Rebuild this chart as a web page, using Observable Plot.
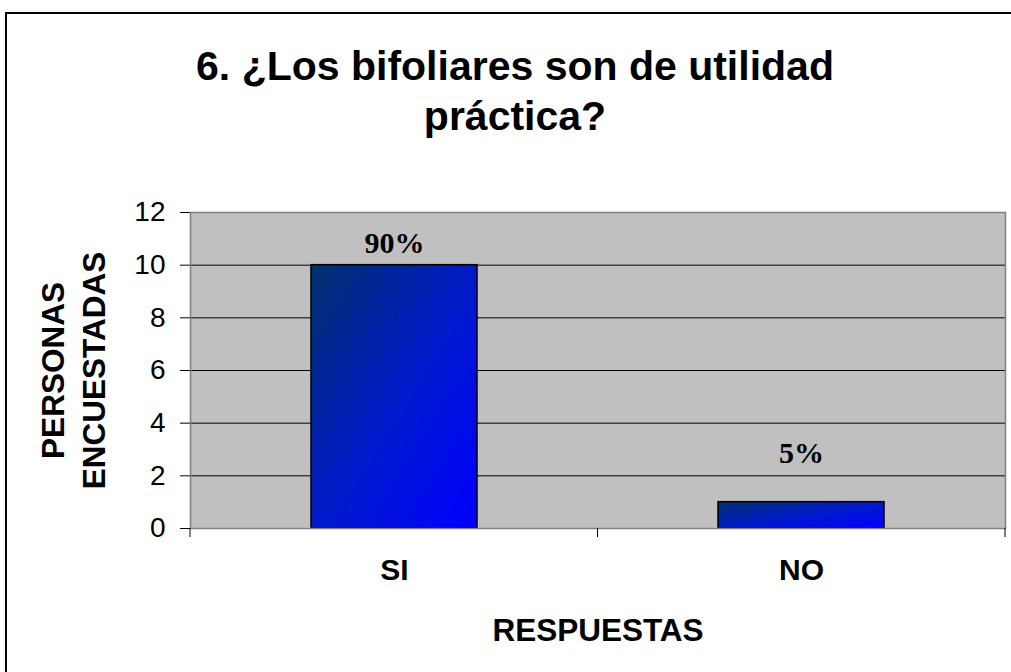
<!DOCTYPE html>
<html><head><meta charset="utf-8">
<script src="https://cdn.jsdelivr.net/npm/d3@7"></script>
<script src="https://cdn.jsdelivr.net/npm/@observablehq/plot@0.6"></script>
<style>
html,body{margin:0;padding:0;background:#fff;}
#wrap{position:relative;width:1011px;height:672px;overflow:hidden;font-family:"Liberation Sans",Arial,sans-serif;background:#fff;}
#border{position:absolute;left:5px;top:12px;width:1100px;height:800px;border-left:2px solid #000;border-top:2px solid #000;}
#title{position:absolute;left:0;top:41px;width:1030px;text-align:center;font-weight:bold;font-size:41px;line-height:50px;color:#000;}
#chart{position:absolute;left:0;top:0;}
</style>
</head><body>
<div id="wrap">
  <div id="border"></div>
  <div id="chart"></div>
  <div id="title">6. ¿Los bifoliares son de utilidad<br>práctica?</div>
</div>
<script>
const answers = ["SI", "NO"];
const counts = [10, 1];
const percentLabels = ["90%", "5%"];
const yTicks = [0, 2, 4, 6, 8, 10, 12];
const yTitle = "PERSONAS\nENCUESTADAS";
const xTitle = "RESPUESTAS";

const rows = answers.map((a, i) => ({answer: a, count: counts[i], label: percentLabels[i]}));
const sans = "'Liberation Sans', Arial, sans-serif";
const serif = "'Liberation Serif', 'Times New Roman', serif";

const chart = Plot.plot({
  width: 1011,
  height: 672,
  marginLeft: 190,
  marginRight: 6,
  marginTop: 212,
  marginBottom: 144,
  style: {fontFamily: sans, background: "transparent", color: "#000", overflow: "visible"},
  x: {type: "band", domain: answers, paddingInner: 0.593, paddingOuter: 0.2965, axis: null, label: null},
  y: {domain: [0, 12], axis: null, label: null},
  marks: [
    Plot.frame({fill: "#C0C0C0"}),
    Plot.gridY(yTicks, {stroke: "#000", strokeOpacity: 1, strokeWidth: 1}),
    Plot.barY(rows, {x: "answer", y: "count", fill: "url(#barGrad)", stroke: "#000", strokeWidth: 1.5}),
    Plot.frame({stroke: "#808080", strokeWidth: 1.5}),
    Plot.axisY(yTicks, {tickSize: 10, tickPadding: 15, fontSize: 28, stroke: "#000", label: null}),
    Plot.text(rows, {x: "answer", text: "answer", frameAnchor: "bottom", dy: 51, fontSize: 30, fontWeight: "bold"}),
    Plot.text(rows.filter(d => d.answer === "SI"), {x: "answer", y: "count", text: "label", dy: -22, fontSize: 30, fontWeight: "bold", fontFamily: serif}),
    Plot.text(rows.filter(d => d.answer === "NO"), {x: "answer", y: "count", text: "label", dy: -49, fontSize: 30, fontWeight: "bold", fontFamily: serif}),
    Plot.text([yTitle], {text: d => d, frameAnchor: "left", textAnchor: "middle", rotate: -90, dx: -119.5, lineHeight: 1.32, fontSize: 31.5, fontWeight: "bold"}),
    Plot.text([xTitle], {text: d => d, frameAnchor: "bottom", dy: 112, fontSize: 31.5, fontWeight: "bold"})
  ]
});

// gradient definition for the bars
const svg = d3.select(chart);
const defs = svg.insert("defs", ":first-child");
const grad = defs.append("linearGradient").attr("id", "barGrad")
  .attr("x1", 0).attr("y1", 0).attr("x2", 1).attr("y2", 1);
grad.append("stop").attr("offset", 0).attr("stop-color", "#00306A");
grad.append("stop").attr("offset", 0.55).attr("stop-color", "#0018D0");
grad.append("stop").attr("offset", 1).attr("stop-color", "#0000FF");

// category boundary ticks below the x axis, from the band scale
const sx = chart.scale("x");
const sy = chart.scale("y");
const y0 = sy.apply(0);
const edges = [sx.range[0]];
for (let i = 0; i < answers.length - 1; i++) {
  edges.push((sx.apply(answers[i]) + sx.apply(answers[i + 1]) + sx.bandwidth) / 2);
}
edges.push(sx.range[1]);
svg.append("g").selectAll("line").data(edges).join("line")
  .attr("x1", d => d).attr("x2", d => d)
  .attr("y1", y0).attr("y2", y0 + 9)
  .attr("stroke", "#000").attr("stroke-width", 1);

document.getElementById("chart").appendChild(chart);
</script>
</body></html>
